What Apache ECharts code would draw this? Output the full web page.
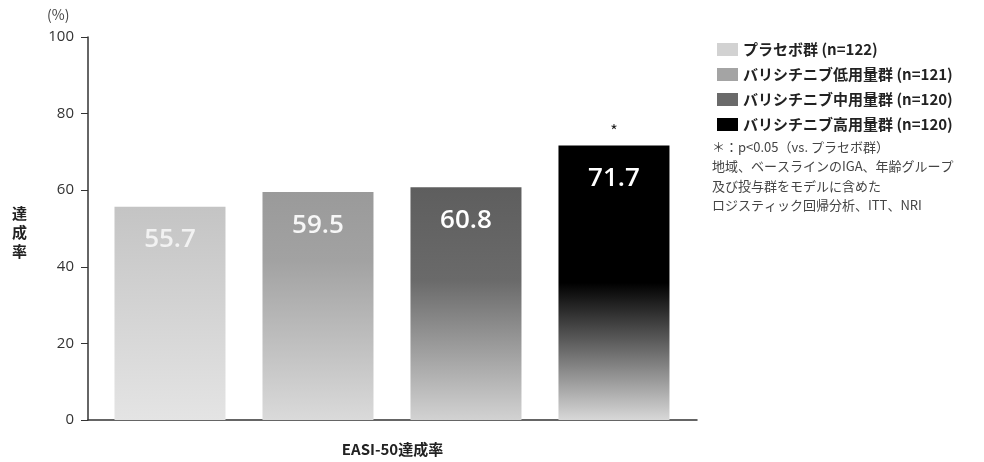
<!DOCTYPE html>
<html><head><meta charset="utf-8">
<script src="https://cdn.jsdelivr.net/npm/echarts@6/dist/echarts.min.js"></script>
<style>html,body{margin:0;padding:0;background:#fff}#c{width:984px;height:462px}</style>
</head><body><div id="c"></div>
<script>
const categories = ['プラセボ群(n=122)','バリシチニブ低用量群(n=121)','バリシチニブ中用量群(n=120)','バリシチニブ高用量群(n=120)'];
const values = [55.7, 59.5, 60.8, 71.7];
const significant = [false, false, false, true];
const yTicks = [0, 20, 40, 60, 80, 100];
const notes = ['＊：p<0.05（vs. プラセボ群）','地域、ベースラインのIGA、年齢グループ','及び投与群をモデルに含めた','ロジスティック回帰分析、ITT、NRI'];

const FONT = '"Noto Sans CJK JP","Noto Sans",sans-serif';
const grads = [
  [[0,'#c4c4c4'],[1,'#e4e4e4']],
  [[0,'#9a9a9a'],[0.3,'#a2a2a2'],[1,'#dadada']],
  [[0,'#5e5e5e'],[0.4,'#6a6a6a'],[1,'#d2d2d2']],
  [[0,'#000000'],[0.5,'#000000'],[1,'#d8d8d8']]
];
const legendColors = ['#d2d2d2','#a4a4a4','#6a6a6a','#000000'];
const labelColors = ['#f2f2f2','#f6f6f6','#ffffff','#ffffff'];

function lg(stops){return {type:'linear',x:0,y:0,x2:0,y2:1,colorStops:stops.map(s=>({offset:s[0],color:s[1]}))};}

const series = categories.map((name,i)=>({
  name, type:'bar', barWidth:111, barGap:'-100%',
  data:[[i, values[i]]],
  itemStyle:{color:lg(grads[i])},
  label:{show:true, position:'insideTop', distance:20, color:labelColors[i], fontSize:26, fontWeight:600, fontFamily:'"Open Sans","Noto Sans",sans-serif', formatter:p=>p.value[1].toFixed(1)},
  markPoint: significant[i] ? {symbol:'circle', symbolSize:0, data:[{coord:[i, values[i]], value:'*'}],
     label:{show:true, formatter:'*', offset:[0,-14], color:'#222', fontSize:16, fontFamily:FONT}} : undefined
}));

const chart = echarts.init(document.getElementById('c'));
chart.setOption({
  animation:false,
  textStyle:{fontFamily:FONT},
  grid:{left:88, right:287, top:37, bottom:39, containLabel:false},
  xAxis:{type:'value', min:-0.554, max:3.561, axisLine:{show:true, onZero:false, lineStyle:{color:'#333', width:1.5}}, axisTick:{show:false}, axisLabel:{show:false}, splitLine:{show:false},
    name:'EASI-50達成率', nameLocation:'middle', nameGap:22, nameTextStyle:{fontSize:15, fontWeight:'bold', color:'#222', fontFamily:FONT}},
  yAxis:{type:'value', min:yTicks[0], max:yTicks[yTicks.length-1], interval:yTicks[1]-yTicks[0],
    axisLine:{show:true, onZero:false, lineStyle:{color:'#333', width:1.5}}, axisTick:{show:true, inside:false, length:7, lineStyle:{color:'#333'}},
    axisLabel:{color:'#333', fontSize:15, margin:14, fontFamily:'"Open Sans","Noto Sans",sans-serif'}, splitLine:{show:false}},
  legend:{orient:'vertical', left:712, top:37, itemWidth:21, itemHeight:13, itemGap:10, icon:'rect',
    data:categories.map((n,i)=>({name:n, itemStyle:{color:legendColors[i]}})),
    formatter:n=>n.replace('(', ' ('),
    textStyle:{fontSize:15, fontWeight:'bold', color:'#222', fontFamily:FONT}},
  graphic:[
    {type:'text', left:47, top:8, style:{text:'(%)', fontSize:14, fill:'#444', fontFamily:FONT}},
    {type:'text', left:12, top:204, style:{text:'達\n成\n率', fontSize:15, fontWeight:'bold', lineHeight:19, fill:'#222', fontFamily:FONT}},
    {type:'text', left:712, top:137, style:{text:notes.join('\n'), fontSize:13, lineHeight:19.5, fill:'#444', fontFamily:FONT}}
  ],
  series
});
</script></body></html>
